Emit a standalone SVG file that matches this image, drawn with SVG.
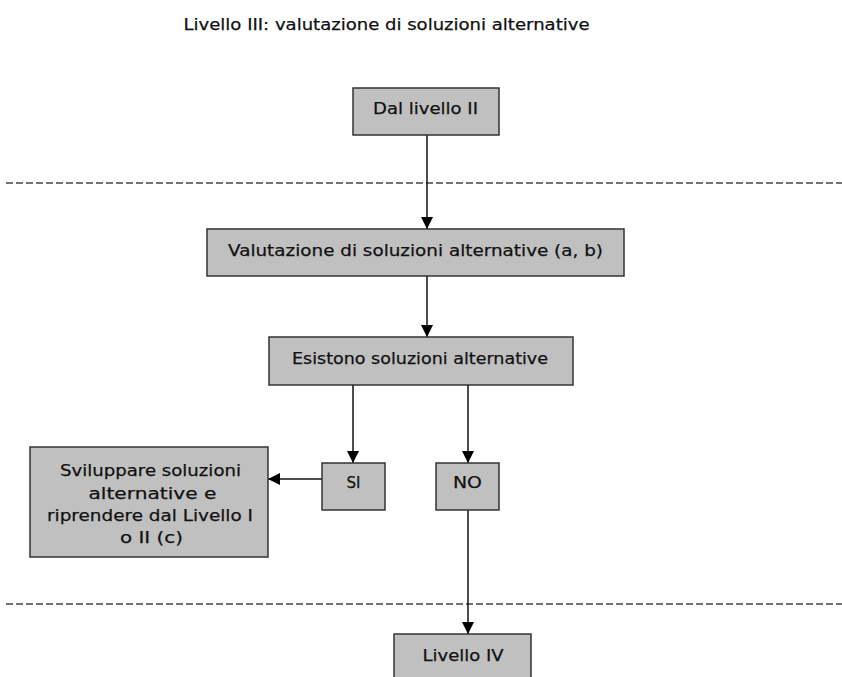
<svg xmlns="http://www.w3.org/2000/svg" width="842" height="677" viewBox="0 0 842 677">
<style>
.box{fill:#c0c0c0;stroke:#333;stroke-width:1.5}
.t{font-family:"DejaVu Sans","Liberation Sans",sans-serif;font-size:16.5px;fill:#111;stroke:#111;stroke-width:0.25;text-anchor:middle}
.c{stroke:#111;stroke-width:1.5;fill:none}
.d{stroke:#444;stroke-width:1.5;stroke-dasharray:7 3;fill:none}
</style>
<defs>
<marker id="ah" markerUnits="userSpaceOnUse" markerWidth="14" markerHeight="14" refX="12" refY="6" orient="auto">
<path d="M0,0 L12,6 L0,12 Z" fill="#000"/>
</marker>
</defs>
<rect width="842" height="677" fill="#fff"/>
<text class="t" x="386.5" y="30" textLength="406" lengthAdjust="spacingAndGlyphs" style="font-size:16px">Livello III: valutazione di soluzioni alternative</text>
<g id="separators">
<line class="d" x1="6" y1="183" x2="842" y2="183"/>
<line class="d" x1="6" y1="604" x2="842" y2="604"/>
</g>
<g id="connectors">
<line class="c" x1="427" y1="135" x2="427" y2="229" marker-end="url(#ah)"/>
<line class="c" x1="427" y1="276" x2="427" y2="337" marker-end="url(#ah)"/>
<line class="c" x1="353" y1="385" x2="353" y2="463" marker-end="url(#ah)"/>
<line class="c" x1="468" y1="385" x2="468" y2="463" marker-end="url(#ah)"/>
<line class="c" x1="322" y1="479" x2="268" y2="479" marker-end="url(#ah)"/>
<line class="c" x1="468" y1="510" x2="468" y2="634" marker-end="url(#ah)"/>
</g>
<g id="dal-livello-ii">
<rect class="box" x="353" y="88" width="146" height="47"/>
<text class="t" x="425.5" y="114" textLength="105" lengthAdjust="spacingAndGlyphs">Dal livello II</text>
</g>
<g id="valutazione">
<rect class="box" x="207" y="229" width="417" height="47"/>
<text class="t" x="415.5" y="256" textLength="375" lengthAdjust="spacingAndGlyphs">Valutazione di soluzioni alternative (a, b)</text>
</g>
<g id="esistono">
<rect class="box" x="269" y="337" width="304" height="48"/>
<text class="t" x="420" y="364" textLength="256" lengthAdjust="spacingAndGlyphs">Esistono soluzioni alternative</text>
</g>
<g id="sviluppare">
<rect class="box" x="30" y="447" width="238" height="110"/>
<text class="t" x="150.5" y="476" textLength="181" lengthAdjust="spacingAndGlyphs">Sviluppare soluzioni</text>
<text class="t" x="152.5" y="499" textLength="128" lengthAdjust="spacingAndGlyphs">alternative e</text>
<text class="t" x="150" y="521" textLength="206" lengthAdjust="spacingAndGlyphs">riprendere dal Livello I</text>
<text class="t" x="151.5" y="543" textLength="63" lengthAdjust="spacingAndGlyphs">o II (c)</text>
</g>
<g id="si">
<rect class="box" x="322" y="463" width="63" height="47"/>
<text class="t" x="353.5" y="488" textLength="14" lengthAdjust="spacingAndGlyphs">SI</text>
</g>
<g id="no">
<rect class="box" x="436" y="463" width="63" height="47"/>
<text class="t" x="467.5" y="488" textLength="29" lengthAdjust="spacingAndGlyphs">NO</text>
</g>
<g id="livello-iv">
<rect class="box" x="394" y="634" width="137" height="50"/>
<text class="t" x="463" y="661" textLength="81" lengthAdjust="spacingAndGlyphs">Livello IV</text>
</g>
</svg>
